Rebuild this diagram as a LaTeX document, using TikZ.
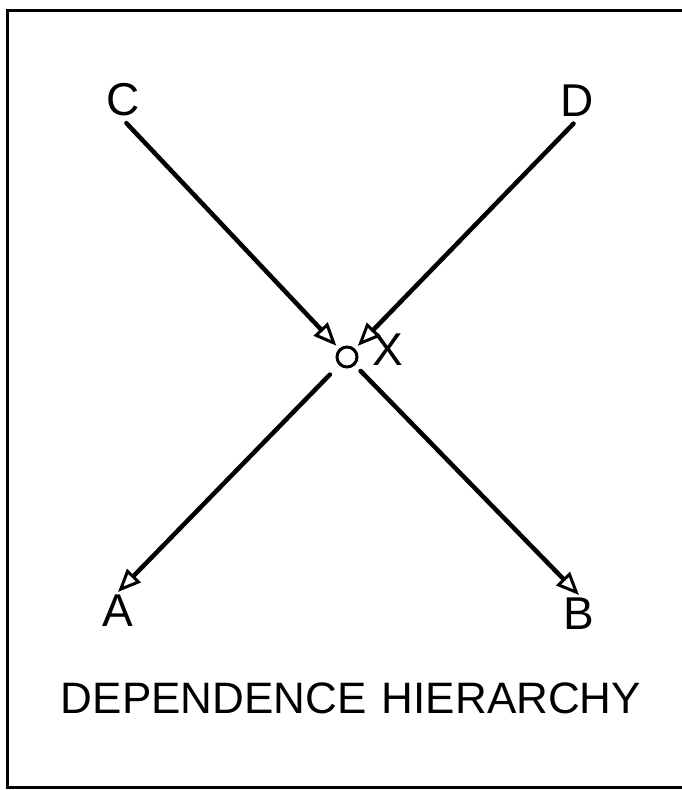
\documentclass[tikz,border=0pt]{standalone}
\usepackage{fontspec}
\setmainfont{Liberation Sans}
\usetikzlibrary{arrows.meta}
\begin{document}
\begin{tikzpicture}[x=1pt,y=-1pt,
  lbl/.style={font=\fontsize{46}{50}\selectfont, inner sep=3pt},
  ttl/.style={font=\fontsize{44}{50}\selectfont, inner sep=0pt},
  conn/.style={line width=4.5pt, line cap=round,
    -{Triangle[open,length=23pt,width=19pt,line width=3pt]}},
  ]
\useasboundingbox (0,0) rectangle (682,790);
\clip (0,0) rectangle (682,790);
\fill[white] (0,0) rectangle (682,790);
\draw[line width=3pt] (682,10) -- (7,10) -- (7,787) -- (682,787);

\node[lbl] (C) at (123,100) {C};
\node[lbl] (D) at (577,101) {D};
\node[circle, draw, line width=3pt, minimum size=20pt, inner sep=0pt] (o) at (347,357) {};
\node[lbl] (X) at (388,350) {X};
\node[lbl] (A) at (118,611) {A};
\node[lbl] (B) at (579,614) {B};
\node[ttl] (T) at (351,698) {DEPENDENCE\hspace{0.35em}HIERARCHY};

\draw[conn, shorten <=5pt, shorten >=4pt] (C.south) -- (o);
\draw[conn, shorten <=5pt, shorten >=4pt] (D.south) -- (o);
\draw[conn, shorten <=13pt] (o) -- (A.north);
\draw[conn, shorten <=8pt] (o) -- (B.north);
\end{tikzpicture}
\end{document}
